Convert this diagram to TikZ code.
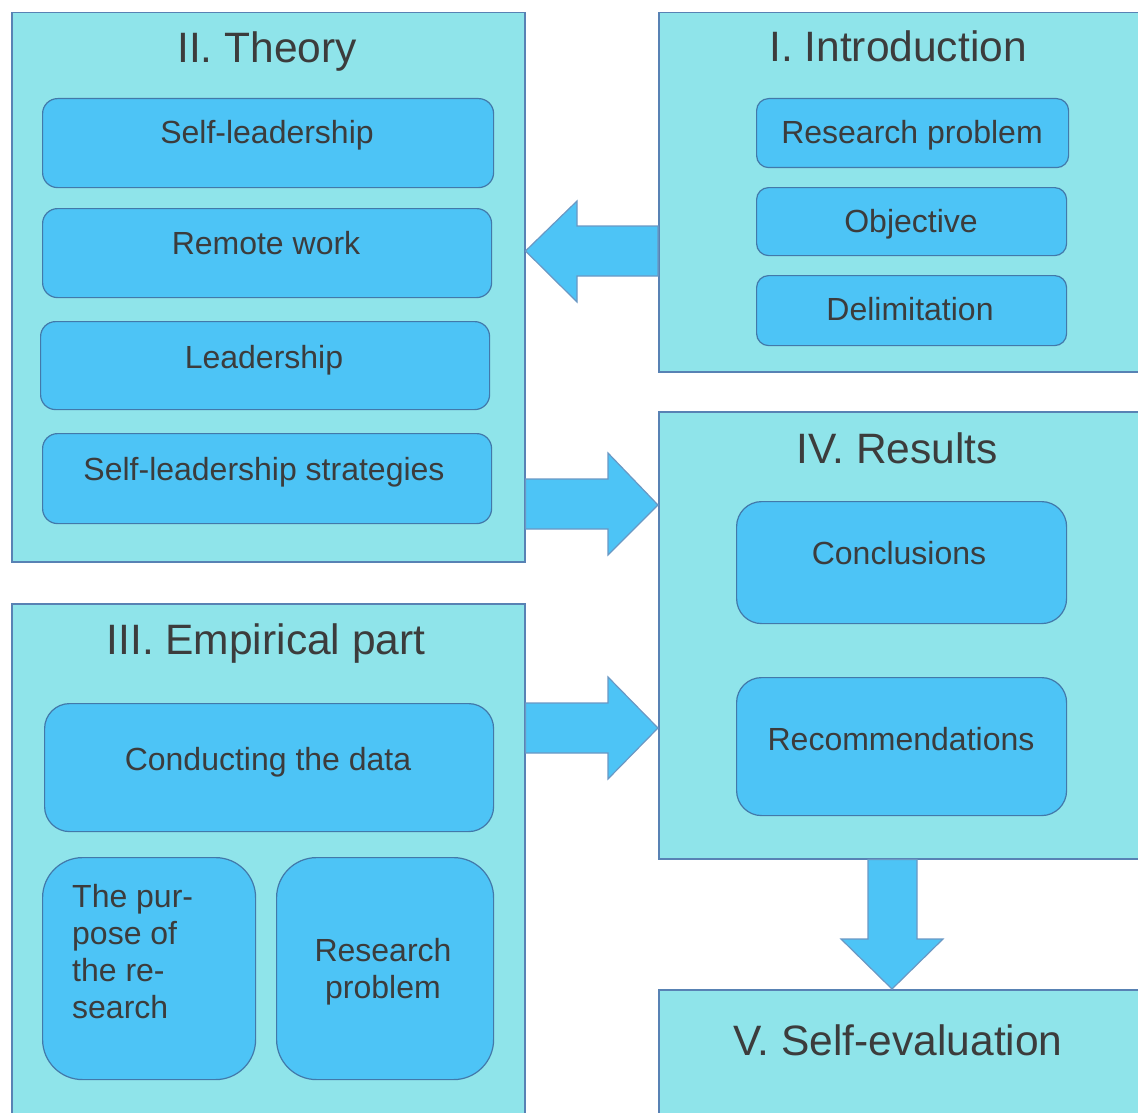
\documentclass[tikz,border=0pt]{standalone}
\usepackage{fontspec}
\setmainfont{Liberation Sans}
\definecolor{boxfill}{HTML}{8FE4EA}
\definecolor{boxline}{HTML}{5882B4}
\definecolor{cellfill}{HTML}{4DC4F6}
\definecolor{cellline}{HTML}{4279AA}
\definecolor{arrowline}{HTML}{6A98C4}
\definecolor{inktext}{HTML}{3C3C3C}
\tikzset{
  part/.style={draw=boxline, fill=boxfill, line width=1.5pt, anchor=north west, inner sep=0pt},
  cell/.style={draw=cellline, fill=cellfill, line width=1.2pt, rounded corners=15pt, anchor=north west, inner sep=0pt},
  heading/.style={text=inktext, font=\fontsize{42.5}{48}\selectfont, anchor=base, inner sep=0pt},
  celltext/.style={text=inktext, font=\fontsize{32}{37}\selectfont, anchor=base, inner sep=0pt},
  blockarrow/.style={draw=arrowline, fill=cellfill, line width=1.2pt, line join=miter},
}
\begin{document}
\begin{tikzpicture}[x=1pt,y=-1pt]
  \useasboundingbox (0,0) rectangle (1138,1113);
  \clip (0,0) rectangle (1138,1113);
  % Hauptbereiche
  \node[part, minimum width=513, minimum height=549] (theory) at (11,12) {};
  \node[part, minimum width=490, minimum height=359] (intro) at (658,12) {};
  \node[part, minimum width=490, minimum height=447] (results) at (658,411) {};
  \node[part, minimum width=513, minimum height=520] (empirical) at (11,603) {};
  \node[part, minimum width=490, minimum height=140] (selfeval) at (658,989) {};
  % Ueberschriften
  \node[heading] (theory-t) at (267,63) {II. Theory};
  \node[heading] (intro-t) at (898,62) {I. Introduction};
  \node[heading] (results-t) at (897,463) {IV. Results};
  \node[heading] (empirical-t) at (266,654) {III. Empirical part};
  \node[heading] (selfeval-t) at (898,1055) {V. Self-evaluation};
  % Theorie
  \node[cell, minimum width=451, minimum height=89] (selflead) at (42,98) {};
  \node[celltext] (selflead-t) at (267,144) {Self-leadership};
  \node[cell, minimum width=449, minimum height=89] (remote) at (42,208) {};
  \node[celltext] (remote-t) at (266,254) {Remote work};
  \node[cell, minimum width=449, minimum height=88] (leader) at (40,321) {};
  \node[celltext] (leader-t) at (264,368) {Leadership};
  \node[cell, minimum width=449, minimum height=90] (strategy) at (42,433) {};
  \node[celltext] (strategy-t) at (264,480) {Self-leadership strategies};
  % Einleitung
  \node[cell, rounded corners=12pt, minimum width=312, minimum height=69] (problem) at (756,98) {};
  \node[celltext] (problem-t) at (912,144) {Research problem};
  \node[cell, rounded corners=12pt, minimum width=310, minimum height=68] (objective) at (756,187) {};
  \node[celltext] (objective-t) at (911,232) {Objective};
  \node[cell, rounded corners=12pt, minimum width=310, minimum height=70] (delimit) at (756,275) {};
  \node[celltext] (delimit-t) at (910,320) {Delimitation};
  % Ergebnisse
  \node[cell, rounded corners=25pt, minimum width=330, minimum height=122] (concl) at (736,501) {};
  \node[celltext] (concl-t) at (899,564) {Conclusions};
  \node[cell, rounded corners=25pt, minimum width=330, minimum height=138] (recomm) at (736,677) {};
  \node[celltext] (recomm-t) at (901,750) {Recommendations};
  % Empirischer Teil
  \node[cell, rounded corners=25pt, minimum width=449, minimum height=128] (conduct) at (44,703) {};
  \node[celltext] (conduct-t) at (268,770) {Conducting the data};
  \node[cell, rounded corners=40pt, minimum width=213, minimum height=222] (purpose) at (42,857) {};
  \node[celltext, anchor=north west, align=left] (purpose-t) at (72,884.5) {The pur-\\pose of\\the re-\\search};
  \node[cell, rounded corners=40pt, minimum width=217, minimum height=222] (problem2) at (276,857) {};
  \node[celltext, anchor=north, align=center] (problem2-t) at (383,938.5) {Research\\problem};
  % Pfeile
  \draw[blockarrow] (intro.west |- 0,226) -- (577,226) -- (577,201) -- (theory.east |- 0,251)
    -- (577,302) -- (577,276) -- (intro.west |- 0,276) -- cycle;
  \draw[blockarrow] (theory.east |- 0,479) -- (608,479) -- (608,453) -- (results.west |- 0,505)
    -- (608,555) -- (608,529) -- (theory.east |- 0,529) -- cycle;
  \draw[blockarrow] (empirical.east |- 0,703) -- (608,703) -- (608,677) -- (results.west |- 0,728)
    -- (608,779) -- (608,753) -- (empirical.east |- 0,753) -- cycle;
  \draw[blockarrow] (868,0 |- results.south) -- (868,939) -- (841,939) -- (892,0 |- selfeval.north)
    -- (943,939) -- (917,939) -- (917,0 |- results.south) -- cycle;
\end{tikzpicture}
\end{document}
